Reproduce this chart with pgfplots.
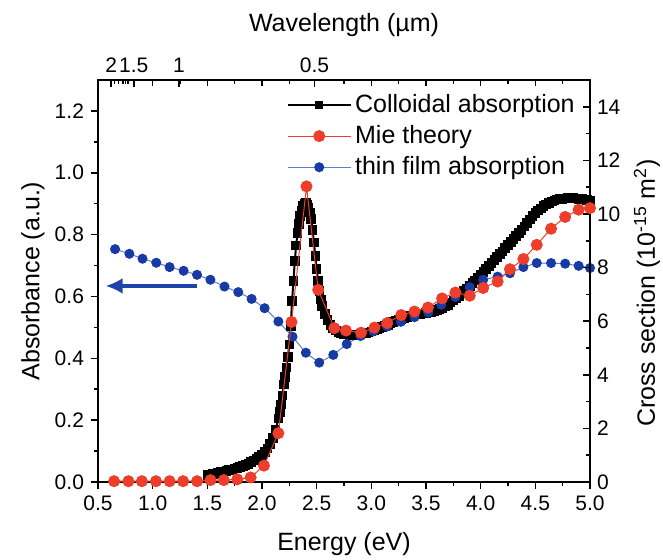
\documentclass[border=0pt]{standalone}
\usepackage{fontspec}
\setmainfont{Liberation Sans}
\usepackage{pgfplots}
\pgfplotsset{compat=1.18}
\usetikzlibrary{arrows.meta}
\definecolor{mier}{RGB}{236,62,42}
\definecolor{filmb}{RGB}{24,58,165}
\definecolor{filml}{RGB}{95,125,205}
\definecolor{arrowb}{RGB}{30,70,170}
\newcommand{\ticksize}{\fontsize{10.5}{12}\selectfont}
\newcommand{\labsize}{\fontsize{12.5}{14}\selectfont}
\begin{document}
\begin{tikzpicture}
\pgfplotsset{
  common/.style={
    scale only axis, width=246pt, height=201pt,
    xmin=0.5, xmax=5.0,
    major tick length=3.5pt, minor tick length=2pt,
    every tick/.style={black, line width=0.8pt},
    axis line style={line width=1pt},
    tick label style={font=\ticksize},
    /pgf/number format/assume math mode=true,
  },
  colloidal/.style={black, line width=1pt, mark=square*, mark size=1.9pt, mark options={solid}},
  mie/.style={mier, line width=0.5pt, mark=*, mark size=2.75pt, mark options={solid, draw=mier, fill=mier}},
  film/.style={filml, line width=0.5pt, mark=*, mark size=2.25pt, mark options={solid, draw=filmb, fill=filmb}},
}
% ---------- left / bottom axis: absorbance ----------
\begin{axis}[common,
  ymin=0, ymax=1.3,
  xtick={0.5,1.0,1.5,2.0,2.5,3.0,3.5,4.0,4.5,5.0},
  minor xtick={0.75,1.25,1.75,2.25,2.75,3.25,3.75,4.25,4.75},
  ytick={0,0.2,0.4,0.6,0.8,1.0,1.2},
  minor ytick={0.1,0.3,0.5,0.7,0.9,1.1},
  xtick pos=bottom, ytick pos=left, tick align=outside,
  xticklabel style={/pgf/number format/.cd, fixed, fixed zerofill, precision=1},
  yticklabel style={/pgf/number format/.cd, fixed, fixed zerofill, precision=1},
  xlabel={Energy (eV)},
  xlabel style={at={([yshift=-31pt]axis description cs:0.5,0)}, anchor=center, font=\labsize},
  ylabel={Absorbance (a.u.)},
  ylabel style={at={([xshift=-32.5pt]axis description cs:0,0.5)}, anchor=center, font=\labsize},
]
% Colloidal absorption
\addplot[colloidal] coordinates {
(1.500,0.022)(1.525,0.024)(1.550,0.026)(1.575,0.028)(1.600,0.030)(1.625,0.032)
(1.650,0.034)(1.675,0.036)(1.700,0.038)(1.725,0.040)(1.750,0.043)(1.775,0.046)
(1.800,0.049)(1.825,0.052)(1.850,0.055)(1.875,0.059)(1.900,0.064)(1.925,0.069)
(1.950,0.075)(1.975,0.081)(2.000,0.088)(2.025,0.097)(2.050,0.108)(2.075,0.122)
(2.100,0.142)(2.125,0.170)(2.150,0.205)(2.1625,0.226)(2.175,0.250)(2.1875,0.280)
(2.200,0.315)(2.2125,0.340)(2.225,0.370)(2.2375,0.405)(2.250,0.445)(2.2625,0.505)
(2.275,0.585)(2.2875,0.650)(2.300,0.715)(2.3125,0.765)(2.325,0.805)(2.3375,0.835)
(2.350,0.860)(2.3625,0.878)(2.375,0.892)(2.3875,0.900)(2.400,0.902)(2.4125,0.898)
(2.425,0.888)(2.4375,0.872)(2.450,0.850)(2.4625,0.815)(2.475,0.775)(2.4875,0.730)
(2.500,0.688)(2.5125,0.650)(2.525,0.618)(2.5375,0.590)(2.550,0.570)(2.575,0.543)
(2.600,0.523)(2.625,0.508)(2.650,0.497)(2.675,0.490)(2.700,0.485)(2.725,0.481)
(2.750,0.479)(2.775,0.477)(2.800,0.476)(2.825,0.476)(2.850,0.476)(2.875,0.477)
(2.900,0.478)(2.925,0.480)(2.950,0.482)(2.975,0.484)(3.000,0.487)(3.025,0.490)
(3.050,0.494)(3.075,0.498)(3.100,0.501)(3.125,0.505)(3.150,0.508)(3.175,0.512)
(3.200,0.517)(3.225,0.521)(3.250,0.524)(3.275,0.527)(3.300,0.531)(3.325,0.534)
(3.350,0.537)(3.375,0.539)(3.400,0.541)(3.425,0.542)(3.450,0.544)(3.475,0.545)
(3.500,0.546)(3.525,0.548)(3.550,0.550)(3.575,0.553)(3.600,0.556)(3.625,0.559)
(3.650,0.562)(3.675,0.567)(3.700,0.573)(3.725,0.580)(3.750,0.587)(3.775,0.594)
(3.800,0.601)(3.825,0.609)(3.850,0.617)(3.875,0.626)(3.900,0.634)(3.925,0.643)
(3.950,0.652)(3.975,0.661)(4.000,0.671)(4.025,0.680)(4.050,0.689)(4.075,0.699)
(4.100,0.708)(4.125,0.718)(4.150,0.727)(4.175,0.737)(4.200,0.746)(4.225,0.756)
(4.250,0.766)(4.275,0.776)(4.300,0.785)(4.325,0.795)(4.350,0.805)(4.375,0.815)
(4.400,0.826)(4.425,0.838)(4.450,0.849)(4.475,0.860)(4.500,0.870)(4.525,0.878)
(4.550,0.885)(4.575,0.892)(4.600,0.898)(4.625,0.903)(4.650,0.907)(4.675,0.910)
(4.700,0.913)(4.725,0.915)(4.750,0.916)(4.775,0.917)(4.800,0.918)(4.825,0.918)
(4.850,0.918)(4.875,0.917)(4.900,0.916)(4.925,0.915)(4.950,0.914)(4.975,0.912)
(5.000,0.910)
};
% thin film absorption
\addplot[film] coordinates {
(0.656,0.753)(0.787,0.738)(0.907,0.722)(1.033,0.709)(1.155,0.695)(1.283,0.683)
(1.406,0.670)(1.528,0.654)(1.657,0.632)(1.783,0.614)(1.905,0.592)(2.024,0.562)
(2.150,0.519)(2.279,0.470)(2.401,0.418)(2.523,0.386)(2.652,0.411)(2.775,0.446)
(2.900,0.472)(3.020,0.487)(3.145,0.503)(3.270,0.518)(3.395,0.533)(3.520,0.548)
(3.640,0.573)(3.769,0.598)(3.900,0.630)(4.023,0.654)(4.155,0.664)(4.268,0.675)
(4.391,0.695)(4.513,0.708)(4.644,0.708)(4.773,0.706)(4.896,0.699)(5.000,0.692)
};
\draw[arrowb, line width=1.6pt, -{Latex[length=8.5pt,width=8pt]}]
  (axis cs:1.41,0.634) -- (axis cs:0.57,0.634);
\end{axis}
% ---------- right / top axis: cross section & wavelength ----------
\begin{axis}[common,
  ymin=0, ymax=15,
  axis x line*=top, axis y line*=right,
  tick align=inside,
  xtick={0.620,0.827,1.240,2.480},
  xticklabels={2,1.5,1,0.5},
  minor xtick={0.6525,0.6888,0.7293,0.7749,0.75,1.25,1.75,2.25,2.75,3.25,3.75,4.25,4.75},
  extra x ticks={1.0,1.5,2.0,3.0,3.5,4.0,4.5},
  extra x tick labels={},
  extra x tick style={major tick length=3pt},
  ytick={0,2,4,6,8,10,12,14},
  minor ytick={1,3,5,7,9,11,13},
  xlabel={Wavelength (µm)},
  xlabel style={at={([yshift=27.5pt]axis description cs:0.5,1)}, anchor=center, font=\labsize},
  ylabel={Cross section (10\textsuperscript{-15} m\textsuperscript{2})},
  ylabel style={at={([xshift=28.5pt,yshift=-6pt]axis description cs:1,0.5)}, anchor=center, font=\labsize},
  legend image code/.code={\draw[mark repeat=2,mark phase=2] plot coordinates {(0cm,0cm) (0.55cm,0cm) (1.1cm,0cm)};},
  legend style={at={(rel axis cs:0.384,0.975)}, anchor=north west, draw=none, fill=none,
    font=\labsize, row sep=1pt, inner sep=0pt, cells={anchor=west}},
]
\addlegendimage{black, line width=0.6pt, mark=square*, mark size=1.6pt, mark options={solid}}
\addlegendentry{Colloidal absorption}
% Mie theory (cross section)
\addplot[mie] coordinates {
(0.647,0.03)(0.778,0.03)(0.901,0.03)(1.030,0.03)(1.155,0.03)(1.278,0.03)
(1.406,0.03)(1.529,0.07)(1.651,0.07)(1.774,0.10)(1.896,0.17)(2.018,0.61)
(2.150,1.82)(2.270,5.97)(2.407,11.03)(2.514,7.17)(2.661,5.74)(2.768,5.65)
(2.906,5.57)(3.028,5.76)(3.145,5.93)(3.273,6.23)(3.395,6.36)(3.518,6.51)
(3.647,6.85)(3.769,7.07)(3.900,6.95)(4.023,7.24)(4.155,7.48)(4.268,7.94)
(4.391,8.32)(4.513,8.85)(4.644,9.45)(4.773,9.89)(4.896,10.16)(5.000,10.22)
};
\addlegendentry{Mie theory}
\addlegendimage{film}
\addlegendentry{thin film absorption}
\end{axis}
\pgfresetboundingbox
\path[use as bounding box] (-49pt,-39pt) rectangle (282.5pt,241pt);
\end{tikzpicture}
\end{document}
